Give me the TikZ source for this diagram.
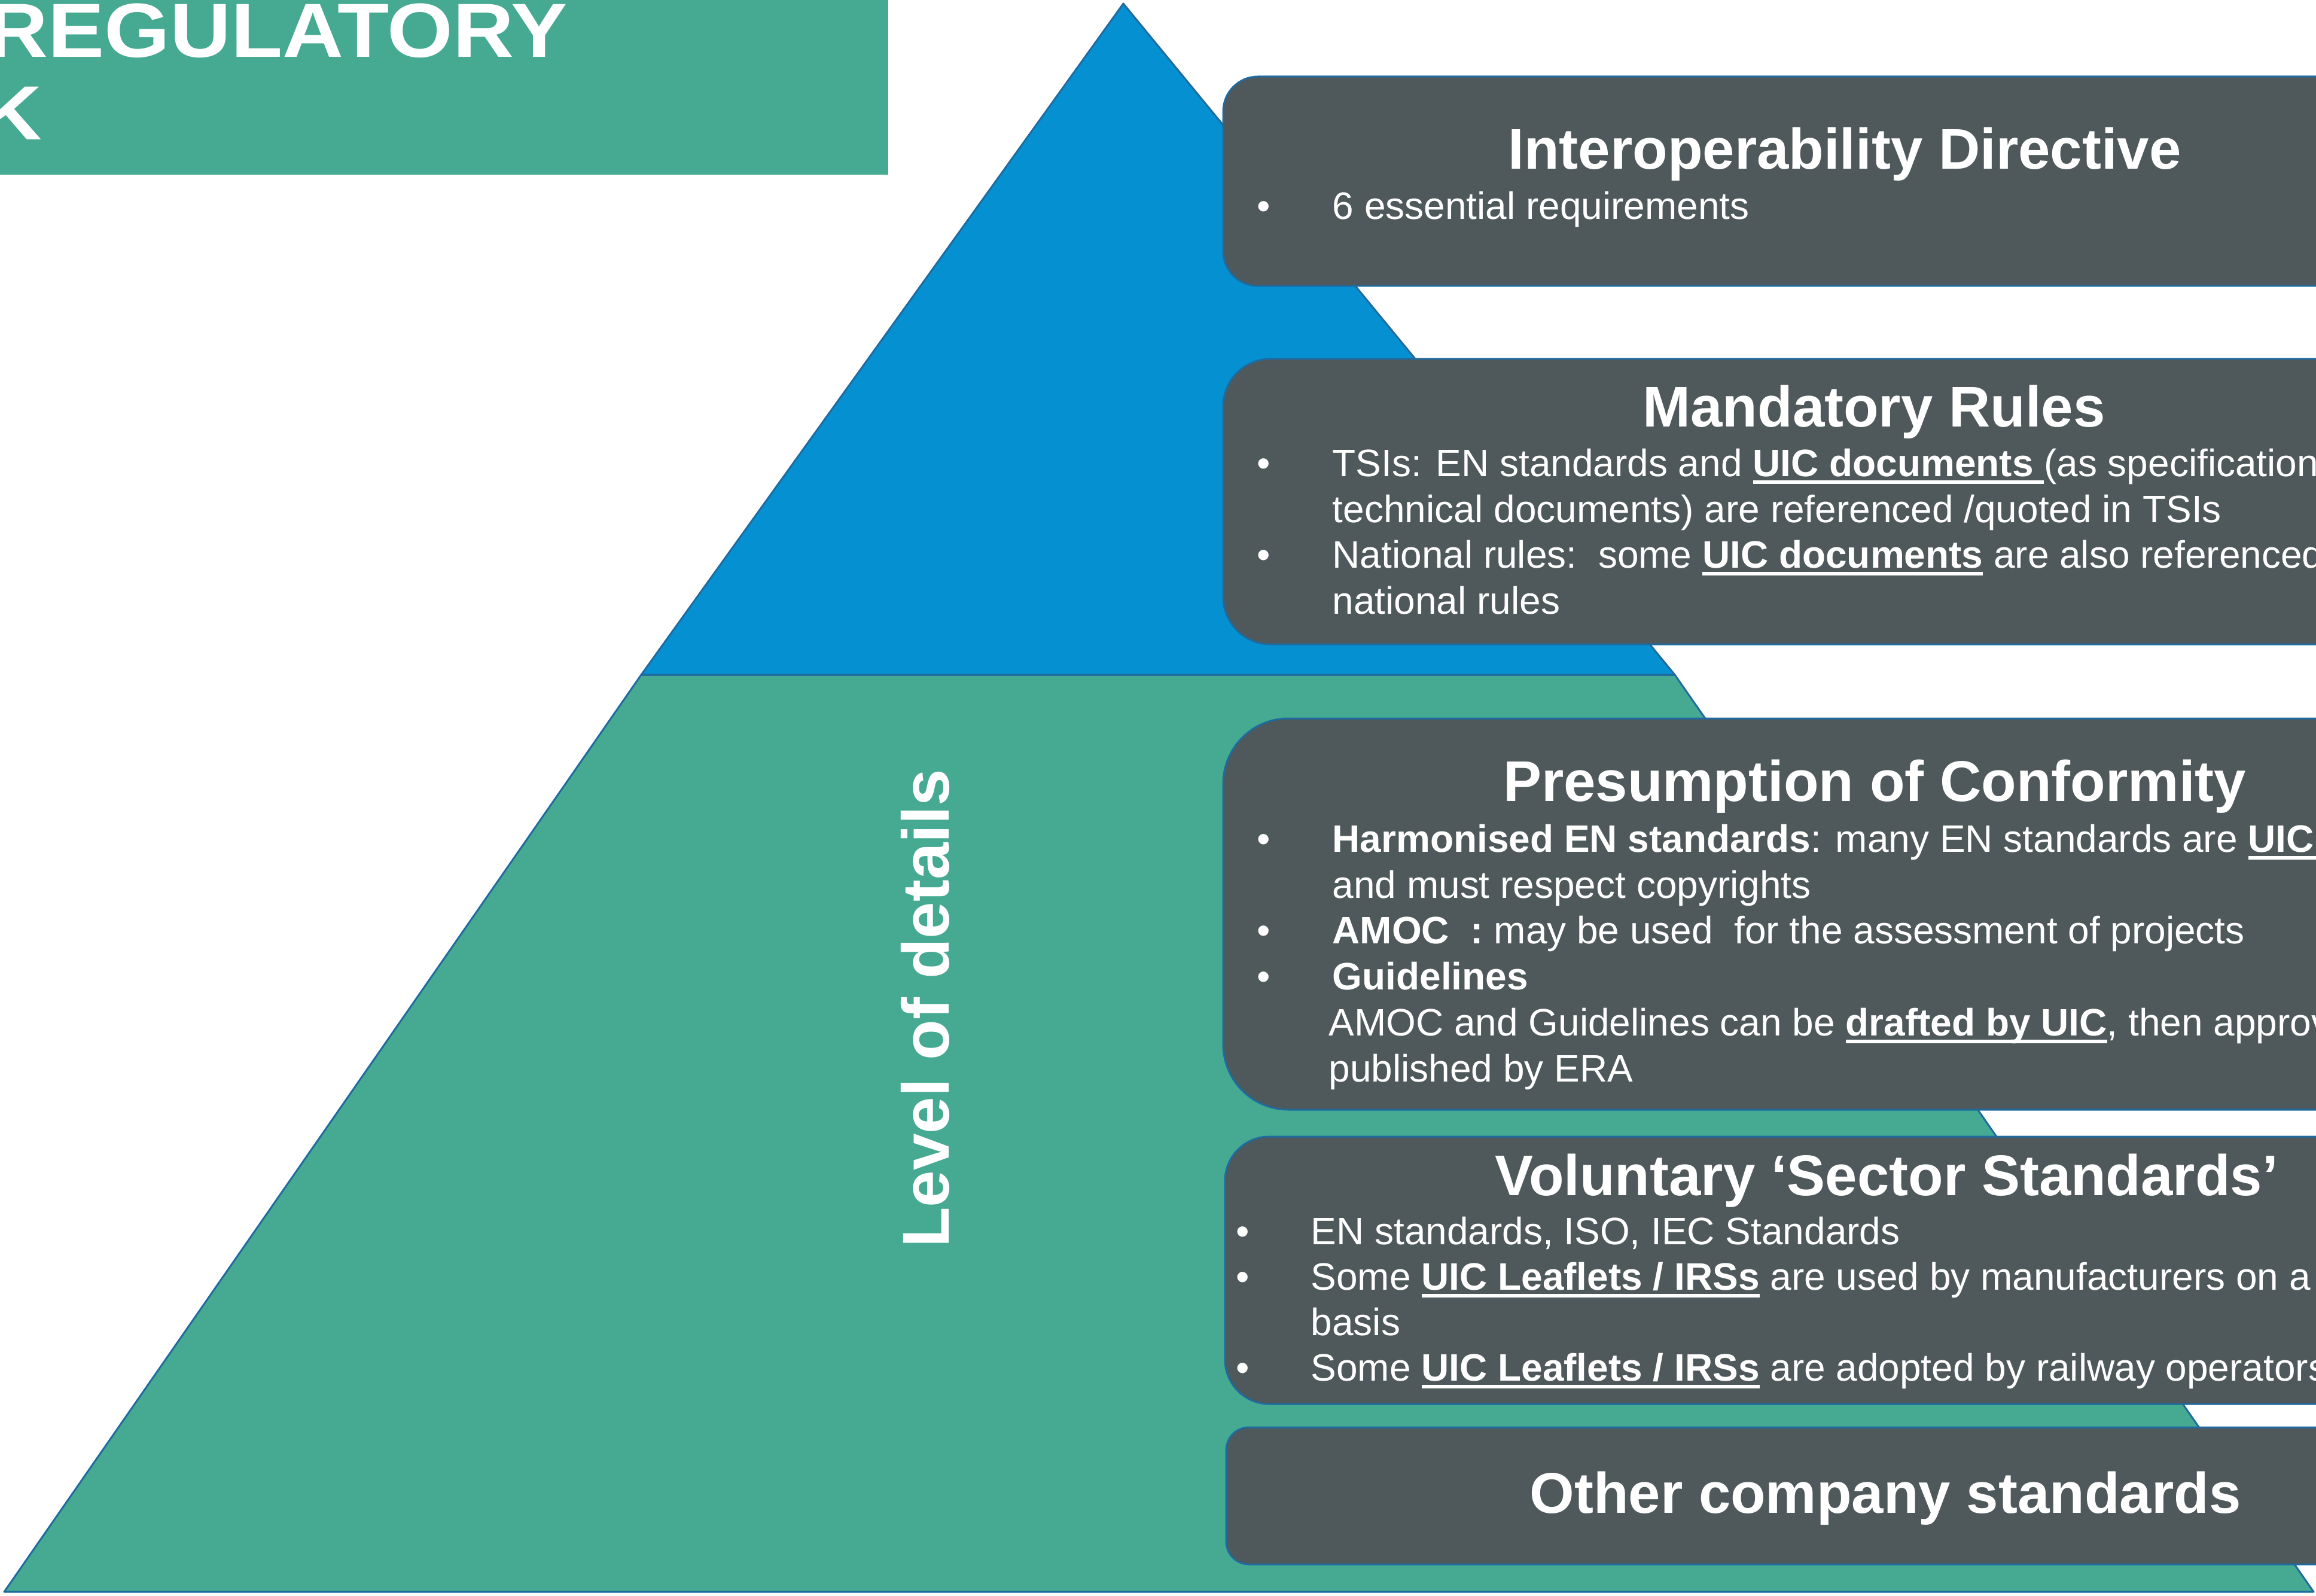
\documentclass[tikz,border=0pt]{standalone}
\usepackage{fontspec}
\setmainfont{Liberation Sans}

\definecolor{pyrblue}{HTML}{0590D2}
\definecolor{pyrgreen}{HTML}{45AA91}
\definecolor{boxgray}{HTML}{4F585B}
\definecolor{edgeblue}{HTML}{1F6A9E}

% thick white underline
\newsavebox{\ulbox}
\newcommand{\uicline}[1]{\sbox{\ulbox}{#1}\rlap{\rule[-0.13cm]{\wd\ulbox}{0.06cm}}\usebox{\ulbox}}
\newcommand{\lvltitle}{\fontsize{27.3}{32.8}\selectfont\bfseries}
\newcommand{\lvlbody}{\fontsize{18.2}{21.9}\selectfont}

\begin{document}
\begin{tikzpicture}[x=1cm,y=1cm,
    edge/.style={draw=edgeblue, line width=0.03cm, line join=round},
    stdbox/.style={edge, fill=boxgray},
    boxtitle/.style={text=white, font=\lvltitle, anchor=base, inner sep=0pt},
    boxline/.style={text=white, font=\lvlbody, anchor=base west, inner sep=0pt},
    bulletmark/.style={text=white, font=\lvlbody, anchor=base, inner sep=0pt}]

    \useasboundingbox (0,0) rectangle (38.72,-26.68);
    \clip (0,0) rectangle (38.72,-26.68);

    % banner
    \fill[pyrgreen] (0,0) rectangle (14.85,-2.92);
    \node[anchor=base west, inner sep=0pt, text=white, font=\fontsize{36.5}{38}\selectfont\bfseries] (banner1) at (-0.22,-0.96) {\scalebox{1.1}[1]{REGULATORY}};
    \node[anchor=base west, inner sep=0pt, text=white, font=\fontsize{36.5}{38}\selectfont\bfseries] (banner2) at (-0.32,-2.34) {\scalebox{1.1}[1]{K}};

    % pyramid: green base, blue top
    \draw[edge, fill=pyrgreen] (10.72,-11.28) -- (28.00,-11.28) -- (38.68,-26.61) -- (0.07,-26.61) -- cycle;
    \draw[edge, fill=pyrblue] (18.78,-0.06) -- (28.00,-11.28) -- (10.72,-11.28) -- cycle;

    \node[rotate=90, anchor=base, inner sep=0pt, text=white, font=\fontsize{31.5}{32}\selectfont\bfseries] (detail) at (15.86,-16.86) {Level of details};

    % box 1
    \draw[stdbox, rounded corners=0.58cm] (20.45,-1.28) rectangle (40,-4.78);
    \node[boxtitle] (t1) at (30.84,-2.83) {Interoperability Directive};
    \node[bulletmark] (b11) at (21.13,-3.67) {\textbullet};
    \node[boxline] (l11) at (22.27,-3.67) {6 essential requirements};

    % box 2
    \draw[stdbox, rounded corners=0.79cm] (20.45,-6.00) rectangle (40,-10.77);
    \node[boxtitle] (t2) at (31.33,-7.13) {Mandatory Rules};
    \node[bulletmark] (b21) at (21.13,-7.96) {\textbullet};
    \node[boxline] (l21) at (22.27,-7.96) {TSIs: EN standards and \uicline{\textbf{UIC documents }}(as specifications};
    \node[boxline] (l22) at (22.27,-8.73) {technical documents) are referenced /quoted in TSIs};
    \node[bulletmark] (b23) at (21.13,-9.49) {\textbullet};
    \node[boxline] (l23) at (22.27,-9.49) {National rules:\ \ some \uicline{\textbf{UIC documents}} are also referenced};
    \node[boxline] (l24) at (22.27,-10.26) {national rules};

    % box 3
    \draw[stdbox, rounded corners=1.09cm] (20.45,-12.01) rectangle (40,-18.55);
    \node[boxtitle] (t3) at (31.34,-13.39) {Presumption of Conformity};
    \node[bulletmark] (b31) at (21.13,-14.24) {\textbullet};
    \node[boxline] (l31) at (22.27,-14.24) {\textbf{Harmonised EN standards}: many EN standards are \uicline{\textbf{UIC }}};
    \node[boxline] (l32) at (22.27,-15.01) {and must respect copyrights};
    \node[bulletmark] (b33) at (21.13,-15.77) {\textbullet};
    \node[boxline] (l33) at (22.27,-15.77) {\textbf{AMOC\ \ :} may be used\ \ for the assessment of projects};
    \node[bulletmark] (b34) at (21.13,-16.54) {\textbullet};
    \node[boxline] (l34) at (22.27,-16.54) {\textbf{Guidelines}};
    \node[boxline] (l35) at (22.21,-17.31) {AMOC and Guidelines can be \uicline{\textbf{drafted by UIC}}, then approved};
    \node[boxline] (l36) at (22.21,-18.08) {published by ERA};

    % box 4
    \draw[stdbox, rounded corners=0.74cm] (20.48,-19.00) rectangle (40,-23.47);
    \node[boxtitle] (t4) at (31.54,-19.98) {Voluntary ‘Sector Standards’};
    \node[bulletmark] (b41) at (20.78,-20.80) {\textbullet};
    \node[boxline] (l41) at (21.91,-20.80) {EN standards, ISO, IEC Standards};
    \node[bulletmark] (b42) at (20.78,-21.56) {\textbullet};
    \node[boxline] (l42) at (21.91,-21.56) {Some \uicline{\textbf{UIC Leaflets / IRSs}} are used by manufacturers on a};
    \node[boxline] (l43) at (21.91,-22.32) {basis};
    \node[bulletmark] (b44) at (20.78,-23.08) {\textbullet};
    \node[boxline] (l44) at (21.91,-23.08) {Some \uicline{\textbf{UIC Leaflets / IRSs}} are adopted by railway operators};

    % box 5
    \draw[stdbox, rounded corners=0.38cm] (20.50,-23.86) rectangle (40,-26.15);
    \node[boxtitle] (t5) at (31.52,-25.29) {Other company standards};
\end{tikzpicture}
\end{document}
